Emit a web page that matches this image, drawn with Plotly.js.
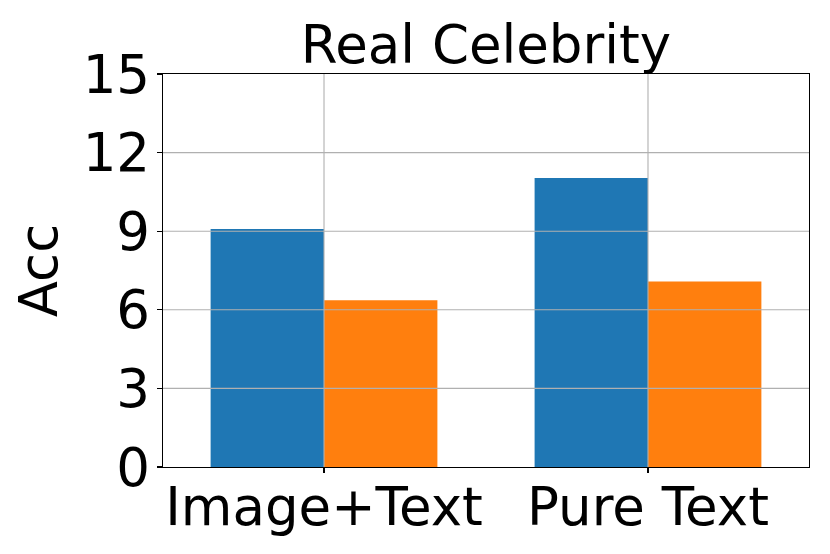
<!DOCTYPE html>
<html>
<head>
<meta charset="utf-8">
<script src="https://cdn.plot.ly/plotly-3.0.1.min.js"></script>
<style>html,body{margin:0;padding:0;background:#fff;}#chart{width:830px;height:554px;}</style>
</head>
<body>
<div id="chart"></div>
<script>
// Data
const categories = ["Image+Text", "Pure Text"];
const seriesA = [9.08, 11.03];   // blue
const seriesB = [6.36, 7.08];    // orange
const yTicks = [0, 3, 6, 9, 12, 15];
const chartTitle = "Real Celebrity";
const yLabel = "Acc";

const FONT = "DejaVu Sans, sans-serif";
const FS = 53;

const traces = [
  {type: "bar", x: categories, y: seriesA, marker: {color: "#1f77b4", line: {width: 0}}, showlegend: false, hoverinfo: "none"},
  {type: "bar", x: categories, y: seriesB, marker: {color: "#ff7f0e", line: {width: 0}}, showlegend: false, hoverinfo: "none"}
];

// grid lines drawn above the bars (derived from tick values / categories)
const shapes = [];
yTicks.forEach(t => {
  if (t > 0 && t < 15) shapes.push({type: "line", xref: "paper", yref: "y", x0: 0, x1: 1, y0: t, y1: t, layer: "above", line: {color: "#b0b0b0", width: 1.1}});
});
categories.forEach(c => {
  shapes.push({type: "line", xref: "x", yref: "paper", x0: c, x1: c, y0: 0, y1: 1, layer: "above", line: {color: "#b0b0b0", width: 1.1}});
});

const layout = {
  width: 830, height: 554,
  margin: {l: 163, r: 21, t: 74, b: 87, pad: 0},
  paper_bgcolor: "#fff", plot_bgcolor: "#fff",
  font: {family: FONT, size: FS, color: "#000"},
  barmode: "group", bargap: 0.3, bargroupgap: 0,
  title: {text: chartTitle, font: {family: FONT, size: FS, color: "#000"}, xref: "paper", x: 0.5, xanchor: "center", yref: "container", y: 1 - 44/554, yanchor: "middle"},
  xaxis: {
    type: "category", range: [-0.497, 1.497],
    showgrid: false, zeroline: false,
    showline: true, linecolor: "#000", linewidth: 1.3, mirror: true,
    ticks: "outside", ticklen: 5, tickwidth: 1.1, tickcolor: "#000",
    tickfont: {family: FONT, size: FS, color: "#000"},
    ticklabelstandoff: -12,
    layer: "above traces"
  },
  yaxis: {
    range: [0, 15], tickvals: yTicks, ticktext: yTicks.map(String),
    showgrid: false, zeroline: false,
    showline: true, linecolor: "#000", linewidth: 1.3, mirror: true,
    ticks: "outside", ticklen: 5, tickwidth: 1.1, tickcolor: "#000",
    tickfont: {family: FONT, size: FS, color: "#000"},
    ticklabelstandoff: -4,
    title: {text: yLabel, font: {family: FONT, size: FS, color: "#000"}, standoff: 8},
    layer: "above traces"
  },
  shapes: shapes
};

Plotly.newPlot("chart", traces, layout, {staticPlot: true, displayModeBar: false});
</script>
</body>
</html>
